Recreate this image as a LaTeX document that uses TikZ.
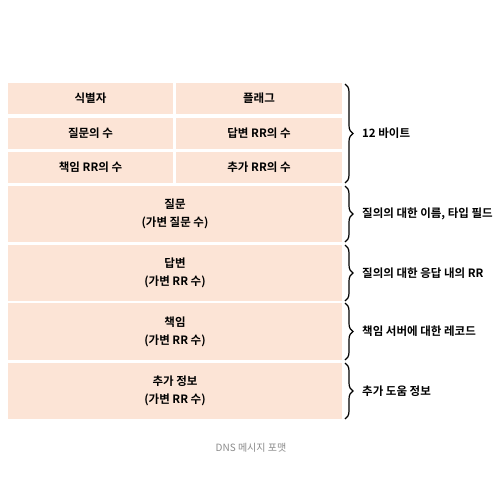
\documentclass[tikz,border=0pt]{standalone}
\usepackage{fontspec}
\setmainfont{Noto Sans CJK KR}
\newfontfamily\krbold{Noto Sans CJK KR Bold}
\usetikzlibrary{decorations.pathreplacing}
\definecolor{cellfill}{HTML}{FCE4D6}
\definecolor{captiongray}{HTML}{8A8A8A}
\begin{document}
\begin{tikzpicture}[x=1pt,y=-1pt,
  cell/.style={fill=cellfill, draw=none, inner sep=0pt, align=center, font=\krbold\fontsize{11.5}{18}\selectfont},
  half/.style={cell, minimum width=166pt, minimum height=31pt},
  full/.style={cell, minimum width=334pt, minimum height=56.5pt},
  bracestyle/.style={draw, line width=1.2pt, decorate, decoration={brace, amplitude=8pt, aspect=0.5}},
  lbl/.style={anchor=west, inner sep=0pt, font=\krbold\fontsize{11.5}{13}\selectfont},
  caption/.style={font=\fontsize{10}{12}\selectfont, text=captiongray}]
\useasboundingbox (0,0) rectangle (500,500);
% header cells
\node[half, minimum width=165pt] (id) at (90.5,98.5) {식별자};
\node[half] (flag) at (259,98.5) {플래그};
\node[half, minimum width=165pt] (nq) at (90.5,133.5) {질문의 수};
\node[half] (na) at (259,133.5) {답변 RR의 수};
\node[half, minimum width=165pt] (nauth) at (90.5,167.5) {책임 RR의 수};
\node[half] (nadd) at (259,167.5) {추가 RR의 수};
% variable sections
\node[full, minimum height=56pt] (q) at (175,214) {질문\\(가변 질문 수)};
\node[full, minimum height=56pt] (ans) at (175,273) {답변\\(가변 RR 수)};
\node[full, minimum height=57pt] (auth) at (175,331.5) {책임\\(가변 RR 수)};
\node[full, minimum height=56pt] (add) at (175,391) {추가 정보\\(가변 RR 수)};
% brace endpoints
\coordinate (b1t) at (345,84);  \coordinate (b1b) at (345,183);
\coordinate (b2t) at (345,186); \coordinate (b2b) at (345,242);
\coordinate (b3t) at (345,245); \coordinate (b3b) at (345,301);
\coordinate (b4t) at (345,303); \coordinate (b4b) at (345,360);
\coordinate (b5t) at (345,363); \coordinate (b5b) at (345,419);
\draw[bracestyle] (b1t) -- (b1b);
\draw[bracestyle] (b2t) -- (b2b);
\draw[bracestyle] (b3t) -- (b3b);
\draw[bracestyle] (b4t) -- (b4b);
\draw[bracestyle] (b5t) -- (b5b);
\node[lbl] (l1) at (362,133) {12 바이트};
\node[lbl] (l2) at (362,214) {질의의 대한 이름, 타입 필드};
\node[lbl] (l3) at (362,273) {질의의 대한 응답 내의 RR};
\node[lbl] (l4) at (362,331.5) {책임 서버에 대한 레코드};
\node[lbl] (l5) at (362,391) {추가 도움 정보};
\node[caption] (cap) at (251,448) {DNS 메시지 포맷};
\end{tikzpicture}
\end{document}
